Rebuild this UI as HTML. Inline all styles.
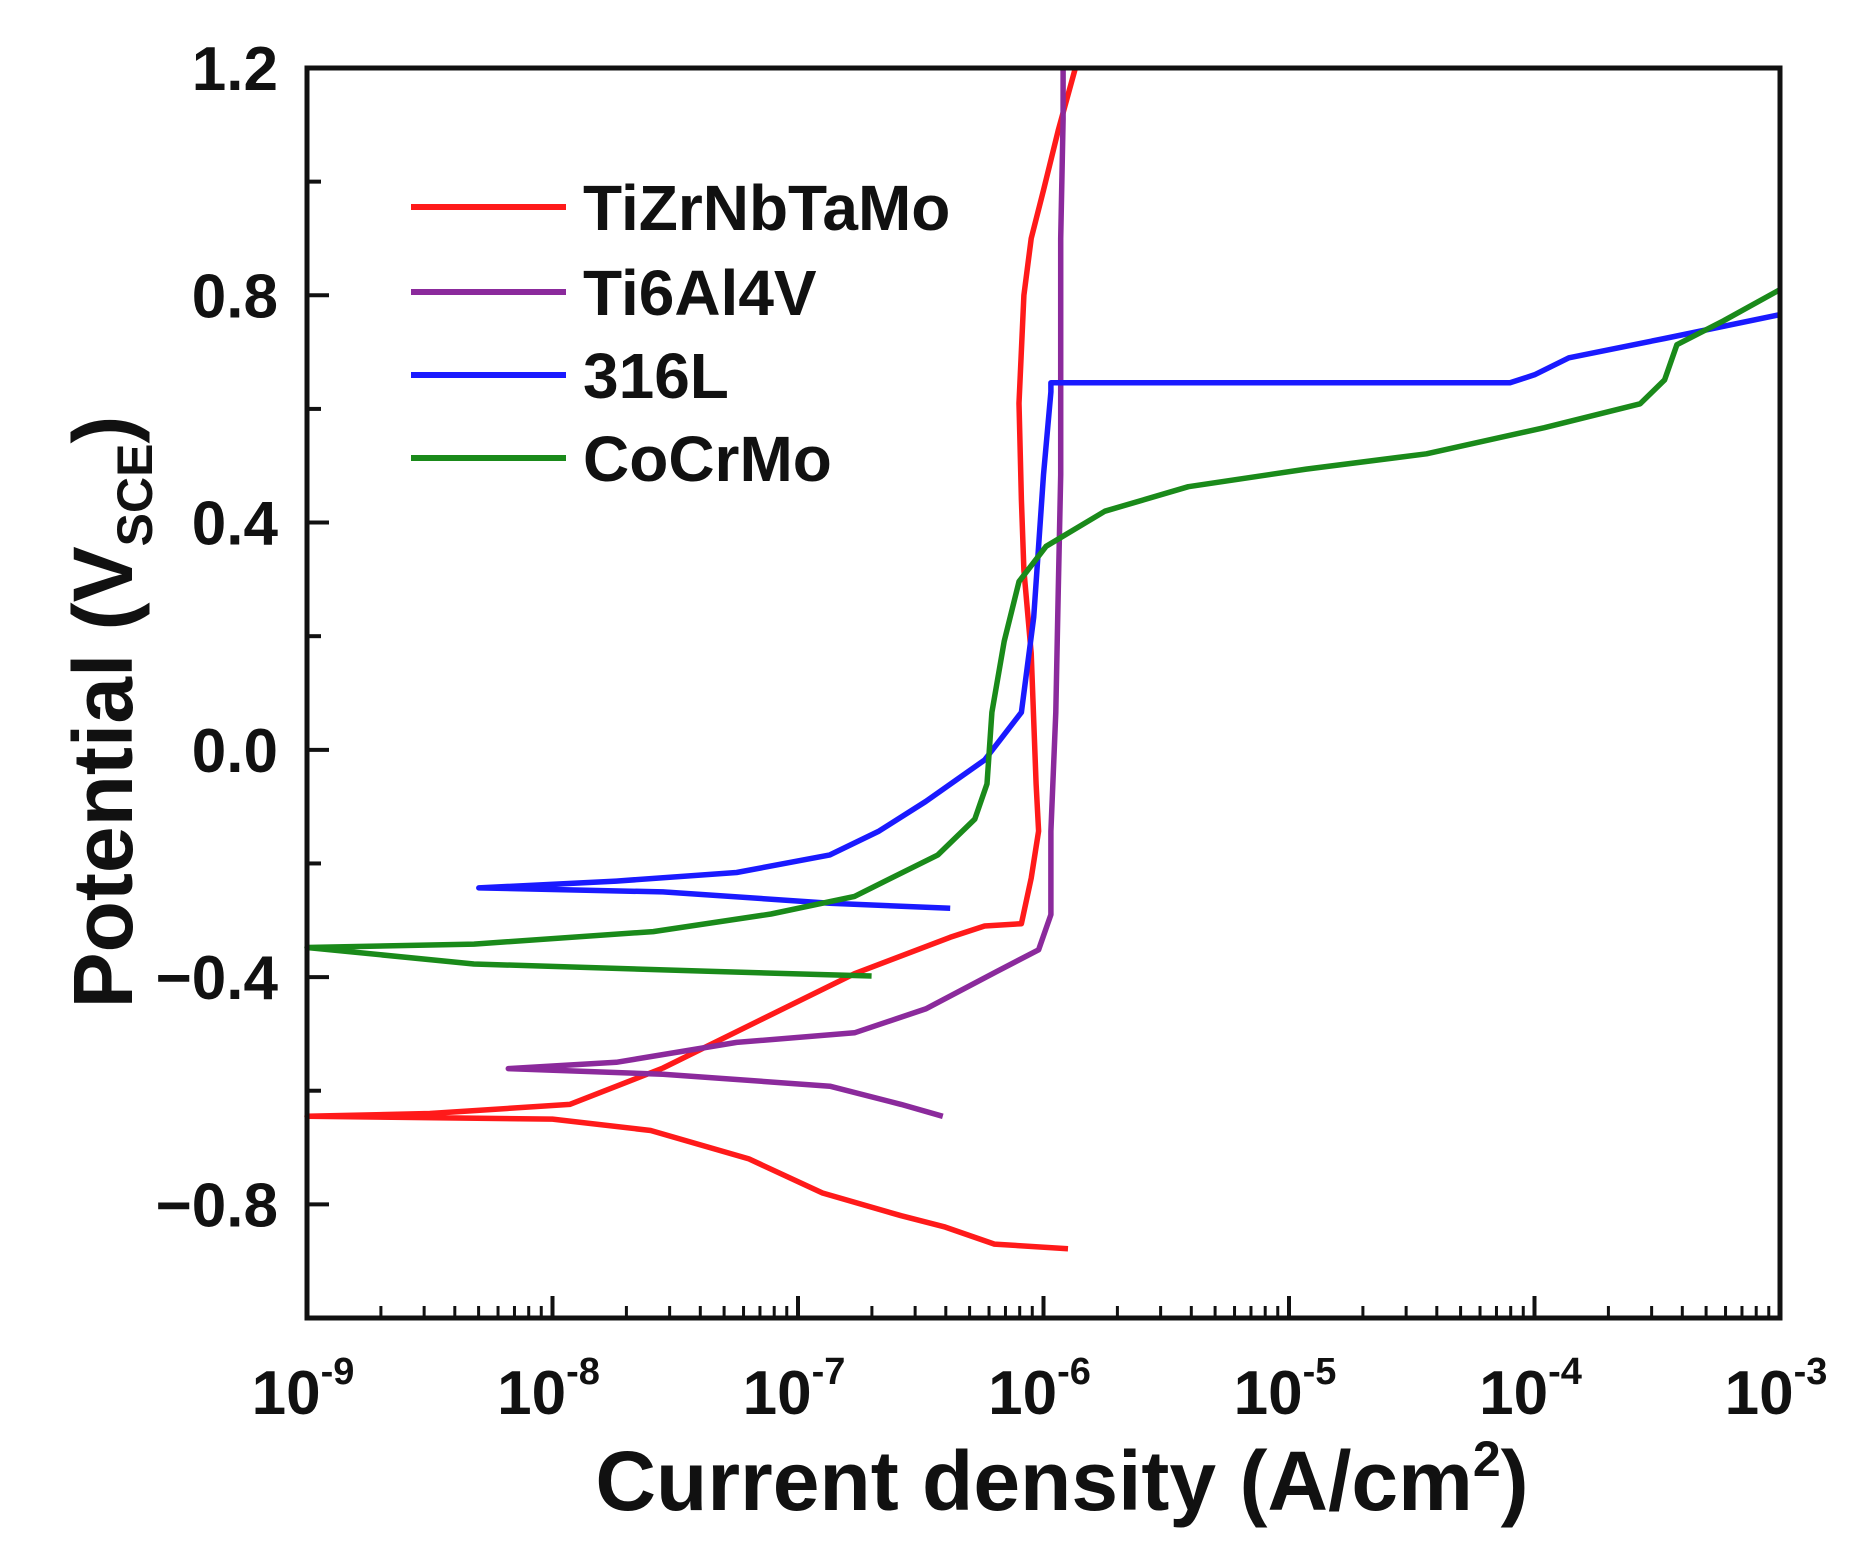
<!DOCTYPE html>
<html><head><meta charset="utf-8"><style>
body{margin:0;background:#fff}
svg text{font-family:"Liberation Sans",Arial,sans-serif;font-weight:bold;fill:#111}
</style></head><body>
<svg id="chart" width="1859" height="1545" viewBox="0 0 1859 1545" xmlns="http://www.w3.org/2000/svg">
<g id="grid"></g>
<g id="series"></g>
<rect x="307" y="68" width="1473" height="1250" fill="none" stroke="#111" stroke-width="5"/>
<g id="axes"></g>
<text x="1062" y="1510" font-size="84" text-anchor="middle">Current density (A/cm<tspan dy="-34" font-size="50">2</tspan><tspan dy="34">)</tspan></text>
<text transform="translate(132,712) rotate(-90)" font-size="84" text-anchor="middle">Potential (V<tspan dy="20" font-size="50">SCE</tspan><tspan dy="-20">)</tspan></text>
<g id="legend"></g>
</svg>
<script>
const xTicks=[-9,-8,-7,-6,-5,-4,-3];
const yTicks=[-0.8,-0.4,0.0,0.4,0.8,1.2];
const yMinor=[-0.6,-0.2,0.2,0.6,1.0];
const names=["TiZrNbTaMo","Ti6Al4V","316L","CoCrMo"];
const colors=["#ff1a1a","#8b2a9c","#1a1aff","#1a8a1a"];
const redLogI=[-5.9,-6.2,-6.4,-6.58,-6.9,-7.2,-7.6,-8,-9,-8.5,-7.93,-7.55,-7.16,-6.77,-6.38,-6.24,-6.09,-6.05,-6.02,-6.03,-6.05,-6.08,-6.09,-6.1,-6.08,-6.05,-6.0,-5.94,-5.87];
const redE=[-0.878,-0.87,-0.84,-0.82,-0.78,-0.72,-0.67,-0.65,-0.645,-0.64,-0.624,-0.56,-0.477,-0.394,-0.33,-0.31,-0.306,-0.226,-0.143,-0.06,0.17,0.316,0.44,0.61,0.80,0.90,0.985,1.09,1.2];
const purLogI=[-6.41,-6.58,-6.87,-7.55,-8.18,-7.74,-7.25,-6.77,-6.48,-6.19,-6.02,-5.97,-5.97,-5.95,-5.94,-5.93,-5.93,-5.93,-5.92,-5.92];
const purE=[-0.645,-0.624,-0.592,-0.571,-0.561,-0.55,-0.515,-0.498,-0.456,-0.39,-0.352,-0.29,-0.143,0.066,0.275,0.484,0.69,0.90,1.11,1.2];
const bluLogI=[-6.38,-6.87,-7.55,-8.30,-7.74,-7.25,-6.87,-6.67,-6.48,-6.24,-6.09,-6.04,-6.0,-5.97,-5.97,-4.10,-4.0,-3.86,-3.47,-3.0];
const bluE=[-0.279,-0.27,-0.25,-0.243,-0.231,-0.216,-0.185,-0.143,-0.091,-0.018,0.066,0.233,0.484,0.63,0.646,0.646,0.66,0.69,0.724,0.766];
const grnLogI=[-6.70,-7.35,-8.32,-9,-8.32,-7.59,-7.11,-6.77,-6.43,-6.28,-6.23,-6.21,-6.16,-6.1,-5.99,-5.75,-5.41,-4.93,-4.44,-3.96,-3.57,-3.47,-3.42,-3.23,-3.0];
const grnE=[-0.398,-0.39,-0.377,-0.348,-0.342,-0.32,-0.289,-0.258,-0.185,-0.122,-0.06,0.066,0.191,0.296,0.358,0.42,0.463,0.494,0.521,0.567,0.609,0.651,0.713,0.755,0.81];
const seriesX=[redLogI,purLogI,bluLogI,grnLogI];
const seriesY=[redE,purE,bluE,grnE];

const X0=307,X1=1780,Y0=68,Y1=1318;
function sx(l){return X0+(l+9)/6*(X1-X0);}
function sy(e){return Y0+(1.2-e)/2.2*(Y1-Y0);}
const NS="http://www.w3.org/2000/svg";
function mk(tag,attrs,parent){const el=document.createElementNS(NS,tag);for(const k in attrs)el.setAttribute(k,attrs[k]);parent.appendChild(el);return el;}
const axes=document.getElementById('axes');
yTicks.forEach(v=>{
  const t=mk('line',{x1:X0,x2:X0+22,y1:sy(v),y2:sy(v),stroke:'#111','stroke-width':4},axes);
  
  
  const tx=mk('text',{x:278,y:sy(v)+22,'font-size':62,'text-anchor':'end'},axes);
  tx.textContent=(v<0?'\u2212':'')+Math.abs(v).toFixed(1);
  
  
});
yMinor.forEach(v=>{
  const t=mk('line',{x1:X0,x2:X0+14,y1:sy(v),y2:sy(v),stroke:'#111','stroke-width':4},axes);
  
  
});
xTicks.forEach((d,i)=>{
  const t=mk('line',{x1:sx(d),x2:sx(d),y1:Y1,y2:Y1-22,stroke:'#111','stroke-width':4},axes);
  
  
  if(i<xTicks.length-1){for(let m=2;m<10;m++){const lx=sx(d+Math.log10(m));
    const mt=mk('line',{x1:lx,x2:lx,y1:Y1,y2:Y1-12,stroke:'#111','stroke-width':3},axes);
    
    }}
  const tx=mk('text',{x:sx(d)-4,y:1414,'font-size':62,'text-anchor':'middle'},axes);
  
  
  tx.innerHTML='10<tspan dy="-30" font-size="38">'+d+'</tspan>';
});
const sg=document.getElementById('series');
seriesX.forEach((xs,i)=>{
  const pts=xs.map((l,j)=>sx(l).toFixed(1)+','+sy(seriesY[i][j]).toFixed(1)).join(' ');
  const p=mk('polyline',{points:pts,fill:'none',stroke:colors[i],'stroke-width':5.5,'stroke-linejoin':'round'},sg);
  
  
});
const lg=document.getElementById('legend');
const ly=[207,292,375,458];
names.forEach((n,i)=>{
  const l=mk('line',{x1:411,x2:566,y1:ly[i],y2:ly[i],stroke:colors[i],'stroke-width':6},lg);
  
  
  const t=mk('text',{x:583,y:ly[i]+23,'font-size':64},lg);
  t.textContent=n;
  
  
});
</script>
</body></html>
